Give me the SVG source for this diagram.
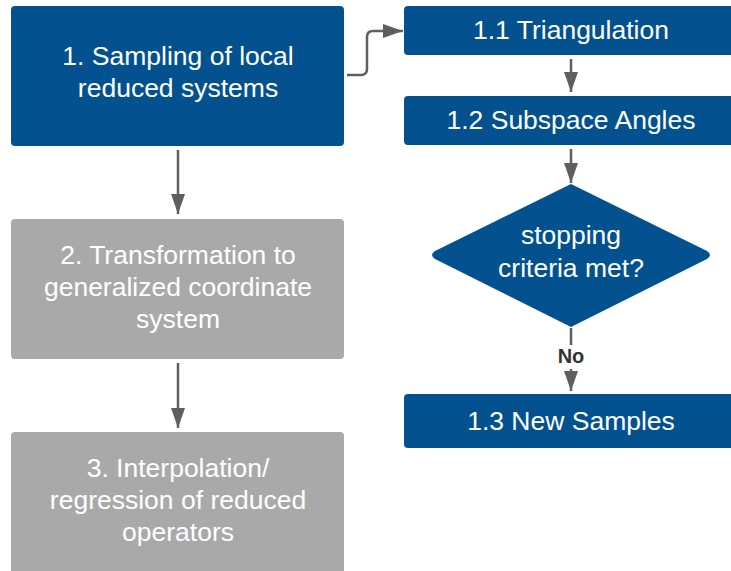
<svg xmlns="http://www.w3.org/2000/svg" width="731" height="571" viewBox="0 0 731 571">
  <style>
    .blue { fill: #03528f; }
    .grey { fill: #a9a9a9; }
    .lbl { font-family: "Liberation Sans", Arial, sans-serif; font-size: 26.5px; fill: #ffffff; text-anchor: middle; }
    .edge { fill: none; stroke: #5f5f5f; stroke-width: 2.5; }
    .tag { font-family: "Liberation Sans", Arial, sans-serif; font-size: 20px; font-weight: bold; fill: #333333; text-anchor: middle; }
  </style>
  <defs>
    <marker id="tip" viewBox="0 0 20 14" refX="20" refY="7" markerWidth="20" markerHeight="14" markerUnits="userSpaceOnUse" orient="auto">
      <path d="M0,0 L20,7 L0,14 Z" fill="#5f5f5f"/>
    </marker>
  </defs>

  <rect width="731" height="571" fill="#ffffff"/>

  <g id="connectors">
    <line class="edge" x1="178" y1="150" x2="178" y2="214" marker-end="url(#tip)"/>
    <line class="edge" x1="178" y1="363" x2="178" y2="428" marker-end="url(#tip)"/>
    <path class="edge" d="M347,75 L361,75 Q367,75 367,69 L367,37 Q367,31 373,31 L403,31" marker-end="url(#tip)"/>
    <line class="edge" x1="571" y1="59" x2="571" y2="92" marker-end="url(#tip)"/>
    <line class="edge" x1="571" y1="149" x2="571" y2="183" marker-end="url(#tip)"/>
    <line class="edge" x1="571" y1="328" x2="571" y2="345"/>
    <line class="edge" x1="571" y1="369" x2="571" y2="391" marker-end="url(#tip)"/>
    <text class="tag" x="571" y="363">No</text>
  </g>

  <g id="step1">
    <rect class="blue" x="11" y="6" width="333" height="140" rx="4"/>
    <text class="lbl" x="178" y="65">1. Sampling of local</text>
    <text class="lbl" x="178" y="97">reduced systems</text>
  </g>

  <g id="step2">
    <rect class="grey" x="11" y="219" width="333" height="140" rx="4"/>
    <text class="lbl" x="178" y="264">2. Transformation to</text>
    <text class="lbl" x="178" y="296">generalized coordinate</text>
    <text class="lbl" x="178" y="328">system</text>
  </g>

  <g id="step3">
    <rect class="grey" x="11" y="432" width="333" height="150" rx="4"/>
    <text class="lbl" x="178" y="477">3. Interpolation/</text>
    <text class="lbl" x="178" y="509">regression of reduced</text>
    <text class="lbl" x="178" y="541">operators</text>
  </g>

  <g id="step1-1">
    <rect class="blue" x="404" y="6" width="340" height="49" rx="4"/>
    <text class="lbl" x="571" y="39">1.1 Triangulation</text>
  </g>

  <g id="step1-2">
    <rect class="blue" x="404" y="96" width="340" height="49" rx="4"/>
    <text class="lbl" x="571" y="129">1.2 Subspace Angles</text>
  </g>

  <g id="decision">
    <path class="blue" d="M571,184 L707,251 Q713,255 707,259 L571,327 L435,259 Q429,255 435,251 Z"/>
    <text class="lbl" x="571" y="244">stopping</text>
    <text class="lbl" x="571" y="277">criteria met?</text>
  </g>

  <g id="step1-3">
    <rect class="blue" x="404" y="394" width="340" height="54" rx="4"/>
    <text class="lbl" x="571" y="430">1.3 New Samples</text>
  </g>
</svg>
